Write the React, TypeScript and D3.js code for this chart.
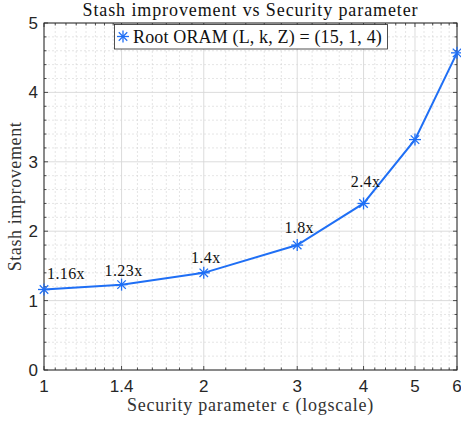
import React from "react";
import * as d3 from "d3";

const xValues = [1, 1.4, 2, 3, 4, 5, 6];
const yValues = [1.16, 1.23, 1.4, 1.8, 2.4, 3.32, 4.57];
const pointLabels = ["1.16x", "1.23x", "1.4x", "1.8x", "2.4x", "", ""];
const xTickValues = [1, 1.4, 2, 3, 4, 5, 6];
const xTickLabels = ["1", "1.4", "2", "3", "4", "5", "6"];
const xMinorTicks = [1.05, 1.1, 1.15, 1.2, 1.25, 1.3, 1.35, 1.5, 1.6, 1.7, 1.8, 1.9, 2.2, 2.4, 2.6, 2.8, 3.2, 3.4, 3.6, 3.8, 4.2, 4.4, 4.6, 4.8, 5.2, 5.4, 5.6, 5.8];
const yTickValues = [0, 1, 2, 3, 4, 5];
const yMinorTicks = [0.2, 0.4, 0.6, 0.8, 1.2, 1.4, 1.6, 1.8, 2.2, 2.4, 2.6, 2.8, 3.2, 3.4, 3.6, 3.8, 4.2, 4.4, 4.6, 4.8];
const titleText = "Stash improvement vs Security parameter";
const xLabelText = "Security parameter \u03F5 (logscale)";
const yLabelText = "Stash improvement";
const legendText = "Root ORAM (L, k, Z) = (15, 1, 4)";

const W = 461, H = 421;
const L = 44, R = 457, T = 23, B = 370;
const BLUE = "#1f6ff5";
const AX = "#262626";
const SERIF = "'Liberation Serif', 'DejaVu Serif', serif";
const SANS = "'Liberation Sans', Arial, sans-serif";

function Asterisk({ x, y, r }: { x: number; y: number; r: number }) {
  const d = r * Math.SQRT1_2;
  return (
    <g stroke={BLUE} strokeWidth={1.3}>
      <line x1={x - r} y1={y} x2={x + r} y2={y} />
      <line x1={x} y1={y - r} x2={x} y2={y + r} />
      <line x1={x - d} y1={y - d} x2={x + d} y2={y + d} />
      <line x1={x - d} y1={y + d} x2={x + d} y2={y - d} />
    </g>
  );
}

export default function App() {
  const xs = d3.scaleLog().domain([1, 6]).range([L, R]);
  const ys = d3.scaleLinear().domain([0, 5]).range([B, T]);
  const line = d3.line<number>().x((_, i) => xs(xValues[i])).y((v) => ys(v));
  const labelDy = [10, 9, 10, 12, 16, 0, 0];
  return (
    <svg width={W} height={H} style={{ position: "absolute", left: 0, top: 0, background: "#fff" }}>
      <rect x={0} y={0} width={W} height={H} fill="#fff" />
      {/* minor grid */}
      {xMinorTicks.map((t) => (
        <line key={"xm" + t} x1={xs(t)} x2={xs(t)} y1={T} y2={B} stroke="#d4d4d4" strokeWidth={0.6} strokeDasharray="2,2" />
      ))}
      {yMinorTicks.map((t) => (
        <line key={"ym" + t} x1={L} x2={R} y1={ys(t)} y2={ys(t)} stroke="#d4d4d4" strokeWidth={0.6} strokeDasharray="2,2" />
      ))}
      {/* major grid */}
      {xTickValues.map((t) => (
        <line key={"xg" + t} x1={xs(t)} x2={xs(t)} y1={T} y2={B} stroke="#d8d8d8" strokeWidth={0.9} />
      ))}
      {yTickValues.map((t) => (
        <line key={"yg" + t} x1={L} x2={R} y1={ys(t)} y2={ys(t)} stroke="#d8d8d8" strokeWidth={0.9} />
      ))}
      {/* ticks */}
      <g stroke={AX} strokeWidth={0.8}>
        {xTickValues.map((t) => (
          <g key={"xt" + t}>
            <line x1={xs(t)} x2={xs(t)} y1={B} y2={B - 4} />
            <line x1={xs(t)} x2={xs(t)} y1={T} y2={T + 4} />
          </g>
        ))}
        {xMinorTicks.map((t) => (
          <g key={"xmt" + t}>
            <line x1={xs(t)} x2={xs(t)} y1={B} y2={B - 2.5} />
            <line x1={xs(t)} x2={xs(t)} y1={T} y2={T + 2.5} />
          </g>
        ))}
        {yTickValues.map((t) => (
          <g key={"yt" + t}>
            <line x1={L} x2={L + 4} y1={ys(t)} y2={ys(t)} />
            <line x1={R} x2={R - 4} y1={ys(t)} y2={ys(t)} />
          </g>
        ))}
        {yMinorTicks.map((t) => (
          <g key={"ymt" + t}>
            <line x1={L} x2={L + 2.5} y1={ys(t)} y2={ys(t)} />
            <line x1={R} x2={R - 2.5} y1={ys(t)} y2={ys(t)} />
          </g>
        ))}
      </g>
      <rect x={L} y={T} width={R - L} height={B - T} fill="none" stroke={AX} strokeWidth={1} />
      {/* tick labels */}
      {xTickValues.map((t, i) => (
        <text key={"xl" + t} x={xs(t)} y={392} textAnchor="middle" fontFamily={SANS} fontSize={17} fill={AX}>
          {xTickLabels[i]}
        </text>
      ))}
      {yTickValues.map((t) => (
        <text key={"yl" + t} x={38} y={ys(t) + 6} textAnchor="end" fontFamily={SANS} fontSize={17} fill={AX}>
          {String(t)}
        </text>
      ))}
      {/* data line */}
      <path d={line(yValues) || ""} fill="none" stroke={BLUE} strokeWidth={2} />
      {yValues.map((v, i) => (
        <Asterisk key={"p" + i} x={xs(xValues[i])} y={ys(v)} r={6} />
      ))}
      {pointLabels.map((lab, i) =>
        lab ? (
          <text
            key={"pl" + i}
            x={i === 0 ? xs(xValues[i]) + 3 : xs(xValues[i]) + 2}
            y={ys(yValues[i]) - labelDy[i]}
            textAnchor={i === 0 ? "start" : "middle"}
            fontFamily={SERIF}
            fontSize={16}
            letterSpacing={0.4}
            fill="#111"
          >
            {lab}
          </text>
        ) : null
      )}
      {/* legend */}
      <rect x={114.5} y={24.5} width={273} height={24.5} fill="#fff" stroke={AX} strokeWidth={0.8} />
      <Asterisk x={123} y={36.5} r={6} />
      <text x={133} y={42.5} fontFamily={SERIF} fontSize={18} letterSpacing={0.15} fill="#111">
        {legendText}
      </text>
      {/* title and labels */}
      <text x={(L + R) / 2} y={16} textAnchor="middle" fontFamily={SERIF} fontSize={18} letterSpacing={0.9} fill="#111">
        {titleText}
      </text>
      <text x={(L + R) / 2} y={411} textAnchor="middle" fontFamily={SERIF} fontSize={18} letterSpacing={0.75} fill="#333">
        {xLabelText}
      </text>
      <text
        transform={`translate(21,${(T + B) / 2}) rotate(-90)`}
        textAnchor="middle"
        fontFamily={SERIF}
        fontSize={18}
        letterSpacing={0.6}
        fill="#333"
      >
        {yLabelText}
      </text>
    </svg>
  );
}
